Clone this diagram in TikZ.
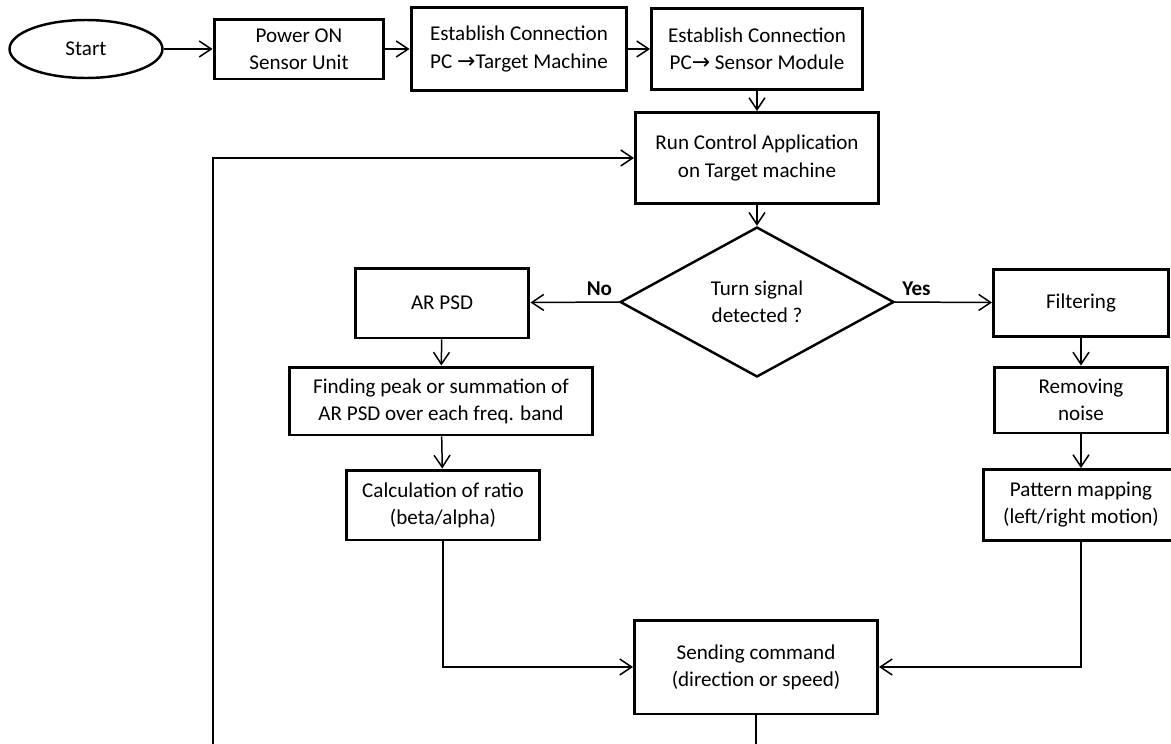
\documentclass[tikz,border=0pt]{standalone}
\usepackage{fontspec}
\setmainfont{Carlito}
\newfontfamily\symfont{DejaVu Sans}
\usetikzlibrary{shapes.geometric,arrows.meta}
\newcommand{\pcarrow}{{\symfont\fontsize{12.5}{12}\selectfont →}}
\tikzset{
	box/.style={draw, line width=1.7pt, align=center, inner sep=1pt},
	flow/.style={line width=0.85pt, -{Straight Barb[length=2.4mm,width=3.2mm]}},
}

\begin{document}
\begin{tikzpicture}[x=0.02cm, y=-0.02cm, font=\fontsize{12}{15.4}\selectfont]
		\clip (0,0) rectangle (1171,744);

		% Start and connection setup
		\node (start) at (86,49) [ellipse, draw, line width=1.4pt, minimum width=3.06cm, minimum height=1.16cm] {Start};
		\begin{scope}[every node/.style={box}]
			\node (power) at (299,49) [minimum width=3.4cm, minimum height=1.2cm] {Power ON\\Sensor Unit};
			\node (conn1) at (519,49) [minimum width=4.32cm, minimum height=1.66cm] {Establish Connection\\PC \pcarrow Target Machine};
			\node (conn2) at (757,49) [minimum width=4.22cm, minimum height=1.62cm] {Establish Connection\\PC\pcarrow{} Sensor Module};
			\node (run) at (757,158) [minimum width=4.86cm, minimum height=1.82cm] {Run Control Application\\on Target machine};
		\end{scope}

		% Decision
		\node (turn) at (757,302) [diamond, draw, line width=1.4pt, aspect=2, inner sep=0pt, align=center, minimum width=5.48cm, minimum height=3cm] {Turn signal\\detected ?};

		% No branch
		\begin{scope}[every node/.style={box}]
			\node (arpsd) at (442,303) [minimum width=3.48cm, minimum height=1.4cm] {AR PSD};
			\node (peak) at (441,401) [minimum width=6.08cm, minimum height=1.36cm] {Finding peak or summation of\\AR PSD over each freq. band};
			\node (ratio) at (443,505) [minimum width=3.88cm, minimum height=1.4cm] {Calculation of ratio\\(beta/alpha)};
		\end{scope}

		% Yes branch
		\begin{scope}[every node/.style={box}]
			\node (filter) at (1081,303) [minimum width=3.5cm, minimum height=1.34cm] {Filtering};
			\node (noise) at (1081,400) [minimum width=3.48cm, minimum height=1.32cm] {Removing\\noise};
			\node (pattern) at (1081,505) [minimum width=3.92cm, minimum height=1.42cm] {Pattern mapping\\(left/right motion)};
			\node (send) at (756,667) [minimum width=4.86cm, minimum height=1.88cm] {Sending command\\(direction or speed)};
		\end{scope}

		\coordinate (back) at (213,790);

		% Arrows
		\begin{scope}[every edge/.style={draw, flow}]
			\path (start) edge (power);
			\path (power) edge (conn1);
			\path (conn1) edge (conn2);
			\path (conn2) edge (run);
			\path (run) edge (turn);
			\path (turn.west) edge node [pos=0.22, above, font=\fontsize{12}{14}\selectfont\bfseries] {No} (arpsd);
			\path (turn.east) edge node [pos=0.22, above, font=\fontsize{12}{14}\selectfont\bfseries] {Yes} (filter);
			\path (arpsd) edge (peak);
			\path (peak) edge (ratio);
			\path (filter) edge (noise);
			\path (noise) edge (pattern);
		\end{scope}
		\draw [flow] (ratio) |- (send);
		\draw [flow] (pattern) |- (send);
		\draw [flow] (send) |- (back) |- (run);
\end{tikzpicture}
\end{document}
